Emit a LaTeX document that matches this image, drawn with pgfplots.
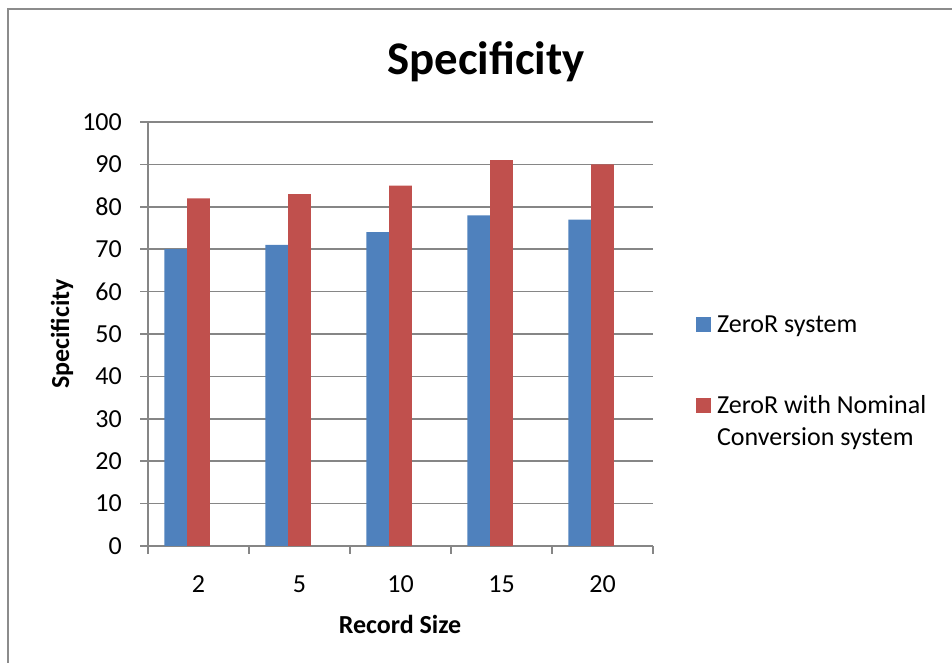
\documentclass[border=0pt]{standalone}
\usepackage{pgfplots}
\pgfplotsset{compat=1.18}
\usepackage{fontspec}
\setmainfont{Carlito}
\definecolor{zblue}{RGB}{79,129,189}
\definecolor{zred}{RGB}{192,80,77}
\definecolor{axgray}{RGB}{134,134,134}
\definecolor{framegray}{RGB}{140,140,140}
\begin{document}
\begin{tikzpicture}
\path[use as bounding box] (0pt,0pt) rectangle (952pt,663pt);
\draw[framegray, line width=1.5pt] (8pt,0pt) -- (8pt,654pt) -- (952pt,654pt);
\begin{axis}[
  at={(148pt,117pt)}, anchor=south west,
  scale only axis, width=505pt, height=424pt,
  font=\fontsize{26}{31}\selectfont,
  /pgf/number format/assume math mode=true,
  xmin=0.5, xmax=5.5, ymin=0, ymax=100,
  ytick={0,10,...,100},
  xtick={1,2,3,4,5}, xticklabels={2,5,10,15,20},
  minor xtick={0.5,1.5,...,5.5},
  axis lines*=left,
  axis line style={draw=axgray, line width=1.5pt},
  tick align=outside,
  major tick length=8pt, minor tick length=8pt,
  every major x tick/.append style={draw=none},
  every tick/.append style={axgray, line width=1.5pt},
  every minor tick/.append style={axgray, line width=1.5pt},
  ymajorgrids, grid style={axgray, line width=1.5pt},
  yticklabel style={anchor=east, inner sep=0pt, xshift=-18pt},
  xticklabel style={anchor=center, inner sep=0pt, yshift=-30pt},
  title={\fontsize{46.8}{56}\selectfont\bfseries Specificity},
  title style={at={(axis description cs:0.669,1.127)}, anchor=center},
  xlabel={\bfseries Record Size},
  xlabel style={at={(axis description cs:0.499,-0.186)}, anchor=center},
  ylabel={\bfseries Specificity},
  ylabel style={at={(axis description cs:-0.170,0.5)}, anchor=center, rotate=0},
  ybar, bar width=22.8pt,
  legend style={at={(axis description cs:1.079,0.554)}, anchor=north west,
    draw=none, fill=none, font=\fontsize{26}{32}\selectfont,
    row sep=51pt, column sep=3pt,
    nodes={inner sep=3pt}},
  legend cell align=left,
  legend style={cells={anchor=base west}},
  legend image code/.code={\fill[#1] (0pt,1pt) rectangle (15pt,16pt);},
]
\addplot[fill=zblue, draw=none, bar shift=-22.8pt] coordinates {(1,70) (2,71) (3,74) (4,78) (5,77)};
\addplot[fill=zred, draw=none, bar shift=0pt] coordinates {(1,82) (2,83) (3,85) (4,91) (5,90)};
\legend{ZeroR system, {\begin{tabular}[t]{@{}l@{}}ZeroR with Nominal\\Conversion system\end{tabular}}}
\end{axis}
\end{tikzpicture}
\end{document}
